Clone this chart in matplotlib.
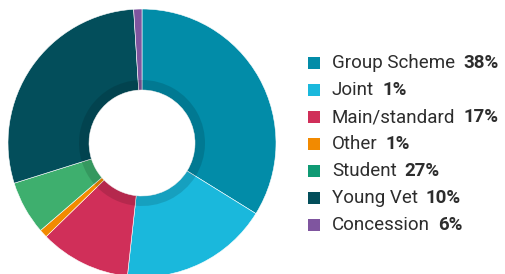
import matplotlib
matplotlib.use("Agg")
import matplotlib.pyplot as plt

# slice sizes (clockwise from top)
labels = ["Group Scheme", "Joint", "Main/standard", "Other", "Student", "Young Vet", "Concession"]
values = [34, 18, 11, 1, 6.5, 29, 1]
# percentages as printed in the legend
legend_pct = ["38%", "1%", "17%", "1%", "27%", "10%", "6%"]
slice_colors = ["#028ca8", "#1ab8dc", "#d02f59", "#f28a00", "#3eaf6e", "#034e5b", "#7f559f"]
legend_colors = ["#028ca8", "#1ab8dc", "#d02f59", "#f28a00", "#0f9a74", "#034e5b", "#7f559f"]

W, H = 506, 274
fig = plt.figure(figsize=(W / 100, H / 100), dpi=100)
ax = fig.add_axes([0, 0, 1, 1])

cx, cy = 142, H - 143
r_out, r_in, r_ring = 134, 53, 63

ax.pie(values, colors=slice_colors, startangle=90, counterclock=False,
       center=(cx, cy), radius=r_out, frame=True,
       wedgeprops=dict(width=r_out - r_in, edgecolor="white", linewidth=0.4))
# darker inner band
ax.pie(values, colors=["black"] * len(values), startangle=90, counterclock=False,
       center=(cx, cy), radius=r_ring, frame=True,
       wedgeprops=dict(width=r_ring - r_in, alpha=0.13, linewidth=0))

ax.set_xlim(0, W)
ax.set_ylim(0, H)
ax.set_aspect("equal")
ax.axis("off")

# legend drawn by hand
fam = ["Roboto", "DejaVu Sans"]
fs = 13.5
y0, dy = H - 63, 27
x_box, box = 308, 12
x_txt = 332
fig.canvas.draw()
rend = fig.canvas.get_renderer()
for i, (lab, pct) in enumerate(zip(labels, legend_pct)):
    y = y0 - i * dy
    ax.add_patch(plt.Rectangle((x_box, y - box / 2), box, box, color=legend_colors[i], lw=0))
    t = ax.text(x_txt, y, lab, fontsize=fs, family=fam, color="#2d2d2d",
                va="center", ha="left")
    bb = t.get_window_extent(renderer=rend)
    x_end = ax.transData.inverted().transform((bb.x1, bb.y0))[0]
    ax.text(x_end + 8, y, pct, fontsize=fs, family=fam, fontweight="bold",
            color="#2d2d2d", va="center", ha="left")

fig.savefig("out.png", dpi=100)
